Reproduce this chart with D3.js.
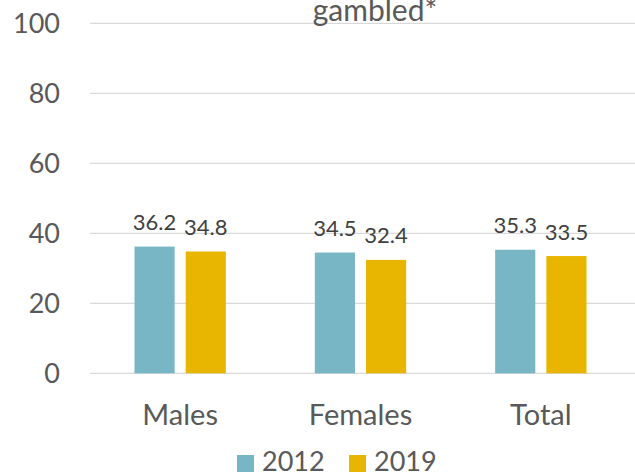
<!DOCTYPE html>
<html>
<head>
<meta charset="utf-8">
<script src="https://cdn.jsdelivr.net/npm/d3@7"></script>
<style>
  html, body { margin: 0; padding: 0; background: #fff; }
  svg { display: block; }
  text { font-family: Lato, "Open Sans", sans-serif; }
</style>
</head>
<body>
<svg id="chart" width="635" height="472"></svg>
<script>
const categories = ["Males", "Females", "Total"];
const seriesNames = ["2012", "2019"];
const values2012 = [36.2, 34.5, 35.3];
const values2019 = [34.8, 32.4, 33.5];
const yTicks = [0, 20, 40, 60, 80, 100];
const titleText = "gambled*";
const colors = ["#78B5C5", "#E8B500"];

const seriesValues = [values2012, values2019];
const svg = d3.select("#chart");

const y = d3.scaleLinear().domain([0, 100]).range([373.3, 23.3]);
const x0 = d3.scaleBand().domain(categories).range([90, 631]).padding(0);
const x1 = d3.scaleBand().domain(seriesNames)
  .range([44.5, x0.bandwidth() - 44.5]).paddingInner(0.216).paddingOuter(0);

// gridlines
svg.append("g").selectAll("line").data(yTicks).join("line")
  .attr("x1", 90).attr("x2", 635)
  .attr("y1", d => y(d)).attr("y2", d => y(d))
  .attr("stroke", "#d9d9d9").attr("stroke-width", 1.3);

// y tick labels
svg.append("g").selectAll("text").data(yTicks).join("text")
  .attr("x", 60).attr("y", d => y(d) + 9.5)
  .attr("text-anchor", "end")
  .attr("font-size", 27).attr("fill", "#595959")
  .text(d => d);

// bars
const groups = svg.append("g").selectAll("g").data(categories).join("g")
  .attr("transform", d => `translate(${x0(d)},0)`);

groups.selectAll("rect")
  .data((c, i) => seriesNames.map((s, j) => ({ s, v: seriesValues[j][i], j })))
  .join("rect")
  .attr("x", d => x1(d.s))
  .attr("width", x1.bandwidth())
  .attr("y", d => y(d.v))
  .attr("height", d => y(0) - y(d.v))
  .attr("fill", d => colors[d.j]);

groups.selectAll("text.lbl")
  .data((c, i) => seriesNames.map((s, j) => ({ s, v: seriesValues[j][i], j })))
  .join("text")
  .attr("class", "lbl")
  .attr("x", d => x1(d.s) + x1.bandwidth() / 2)
  .attr("y", d => y(d.v) - 16.5)
  .attr("text-anchor", "middle")
  .attr("font-size", 22).attr("fill", "#404040")
  .text(d => d.v.toFixed(1));

// category labels
svg.append("g").selectAll("text").data(categories).join("text")
  .attr("x", d => x0(d) + x0.bandwidth() / 2)
  .attr("y", 425)
  .attr("text-anchor", "middle")
  .attr("font-size", 29).attr("fill", "#595959")
  .text(d => d);

// title fragment
svg.append("text")
  .attr("x", 375).attr("y", 21)
  .attr("text-anchor", "middle")
  .attr("font-size", 30).attr("fill", "#595959")
  .text(titleText);

// legend
const legendX = [237, 349];
const leg = svg.append("g").selectAll("g").data(seriesNames).join("g")
  .attr("transform", (d, i) => `translate(${legendX[i]},0)`);
leg.append("rect").attr("x", 0).attr("y", 455).attr("width", 17).attr("height", 17)
  .attr("fill", (d, i) => colors[i]);
leg.append("text").attr("x", 25).attr("y", 471)
  .attr("font-size", 27).attr("fill", "#595959")
  .text(d => d);
</script>
</body>
</html>
